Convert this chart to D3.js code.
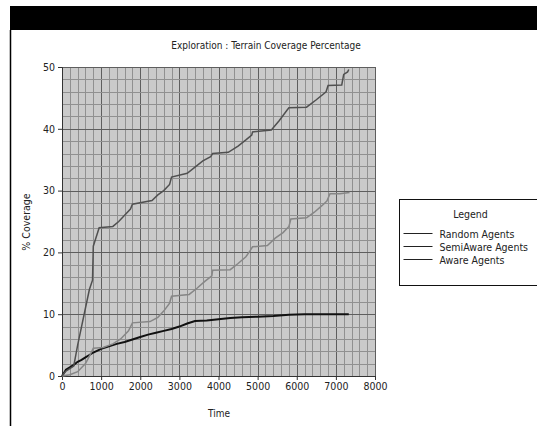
<!DOCTYPE html>
<html>
<head>
<meta charset="utf-8">
<script src="https://cdn.jsdelivr.net/npm/d3@7"></script>
<style>
  body { margin: 0; background: #fff; }
  svg { display: block; font-family: "DejaVu Sans Condensed", "DejaVu Sans", sans-serif; }
</style>
</head>
<body>
<div id="chart"></div>
<script>
// time / coverage pairs
const randomAgents = [[0,0],[50,0.5],[100,1],[200,1.4],[300,1.8],[400,2.3],[500,2.6],[600,3],[700,3.4],[800,3.8],[1000,4.4],[1200,4.8],[1400,5.2],[1600,5.5],[1800,5.9],[2000,6.3],[2200,6.7],[2400,7.0],[2600,7.3],[2800,7.6],[3000,8.0],[3200,8.5],[3400,8.9],[3700,9.0],[4000,9.2],[4300,9.4],[4600,9.5],[5000,9.6],[5400,9.7],[5800,9.9],[6200,10],[6600,10],[7000,10],[7330,10]];
const semiAwareAgents = [[0,0],[200,0.2],[400,0.7],[600,2],[700,3.2],[800,4.5],[1050,4.6],[1300,5.2],[1500,6],[1700,7.3],[1800,8.6],[2250,8.8],[2450,9.5],[2600,10.5],[2750,11.8],[2800,12.9],[3250,13.2],[3450,14.2],[3650,15.3],[3830,16.2],[3850,17.1],[4300,17.2],[4500,18.2],[4700,19.3],[4800,20.2],[4870,20.9],[5250,21.1],[5450,22.3],[5650,23.2],[5800,24.2],[5850,25.4],[6250,25.6],[6450,26.5],[6650,27.6],[6770,28.3],[6850,29.5],[7100,29.5],[7350,29.7]];
const awareAgents = [[0,0],[100,0.8],[200,1.2],[300,1.6],[400,5],[500,8],[600,11],[700,14],[780,15.5],[800,21],[850,22],[950,24],[1300,24.2],[1450,25],[1600,26],[1750,27],[1800,27.8],[2300,28.4],[2450,29.3],[2600,30],[2750,31],[2800,32.2],[3200,32.8],[3400,33.8],[3600,34.8],[3800,35.5],[3850,36],[4250,36.2],[4500,37.2],[4700,38.2],[4850,39],[4870,39.5],[5350,39.8],[5550,41.3],[5750,43],[5800,43.4],[6250,43.5],[6500,44.7],[6750,46],[6800,47],[7150,47.1],[7200,48.8],[7300,49.2],[7330,49.6]];

const seriesNames = ['Random Agents', 'SemiAware Agents', 'Aware Agents'];
const xTicks = [0, 1000, 2000, 3000, 4000, 5000, 6000, 7000, 8000];
const yTicks = [0, 10, 20, 30, 40, 50];

const width = 537, height = 426;
const plot = { left: 62, right: 375, top: 67, bottom: 376 };
const fontSize = 10;

const svg = d3.select('#chart').append('svg')
  .attr('width', width).attr('height', height);

// window frame
svg.append('rect').attr('x', 10).attr('y', 6).attr('width', width - 10).attr('height', 24).attr('fill', '#000');
svg.append('line').attr('x1', 10.5).attr('x2', 10.5).attr('y1', 30).attr('y2', height)
  .attr('stroke', '#000').attr('stroke-width', 1.5);

const x = d3.scaleLinear().domain([0, 8000]).range([plot.left, plot.right]);
const y = d3.scaleLinear().domain([0, 50]).range([plot.bottom, plot.top]);

svg.append('rect')
  .attr('x', plot.left).attr('y', plot.top)
  .attr('width', plot.right - plot.left).attr('height', plot.bottom - plot.top)
  .attr('fill', '#cacaca');

const grid = svg.append('g').attr('class', 'grid');
const minorX = d3.range(0, 8001, 200), minorY = d3.range(0, 51, 2);

grid.selectAll('line.vx').data(minorX).join('line')
  .attr('x1', d => Math.round(x(d)) + 0.5).attr('x2', d => Math.round(x(d)) + 0.5)
  .attr('y1', plot.top).attr('y2', plot.bottom)
  .attr('stroke', d => d % 1000 === 0 ? '#5e5e5e' : '#909090').attr('stroke-width', 1);

grid.selectAll('line.hy').data(minorY).join('line')
  .attr('y1', d => Math.round(y(d)) + 0.5).attr('y2', d => Math.round(y(d)) + 0.5)
  .attr('x1', plot.left).attr('x2', plot.right)
  .attr('stroke', d => d % 10 === 0 ? '#5e5e5e' : '#909090').attr('stroke-width', 1);

// axes
const xAxis = svg.append('g').attr('transform', `translate(0, ${plot.bottom})`)
  .call(d3.axisBottom(x).tickValues(xTicks).tickSize(4).tickPadding(3).tickFormat(d3.format('d')));
const yAxis = svg.append('g').attr('transform', `translate(${plot.left}, 0)`)
  .call(d3.axisLeft(y).tickValues(yTicks).tickSize(4).tickPadding(3));
[xAxis, yAxis].forEach(a => {
  a.select('.domain').attr('stroke', '#333');
  a.selectAll('.tick line').attr('stroke', '#333');
  a.selectAll('text').attr('font-size', fontSize + 0.5).attr('fill', '#222')
    .attr('font-family', '"DejaVu Sans Condensed", "DejaVu Sans", sans-serif');
});

const line = d3.line().x(d => x(d[0])).y(d => y(d[1]));
const series = [
  { name: seriesNames[0], data: randomAgents, color: '#111', w: 2 },
  { name: seriesNames[1], data: semiAwareAgents, color: '#868686', w: 1.5 },
  { name: seriesNames[2], data: awareAgents, color: '#505050', w: 1.5 }
];
svg.append('g').selectAll('path').data(series).join('path')
  .attr('d', d => line(d.data)).attr('fill', 'none')
  .attr('stroke', d => d.color).attr('stroke-width', d => d.w);

// titles
svg.append('text').attr('x', 266).attr('y', 49).attr('text-anchor', 'middle')
  .attr('font-size', fontSize).attr('fill', '#222').text('Exploration : Terrain Coverage Percentage');
svg.append('text').attr('x', 219).attr('y', 417).attr('text-anchor', 'middle')
  .attr('font-size', fontSize).attr('fill', '#222').text('Time');
svg.append('text').attr('transform', `translate(30, 222) rotate(-90)`)
  .attr('text-anchor', 'middle').attr('font-size', fontSize + 0.5).attr('fill', '#222').text('% Coverage');

// legend
const legend = svg.append('g').attr('transform', 'translate(399.5, 199.5)');
legend.append('rect').attr('width', 150).attr('height', 86)
  .attr('fill', '#fff').attr('stroke', '#111').attr('stroke-width', 1);
legend.append('text').attr('x', 71).attr('y', 18).attr('text-anchor', 'middle')
  .attr('font-size', fontSize + 0.5).attr('fill', '#222').text('Legend');
const items = legend.selectAll('g.item').data(series).join('g')
  .attr('transform', (d, i) => `translate(0, ${34 + i * 13})`);
items.append('line').attr('x1', 4).attr('x2', 33).attr('stroke', '#222').attr('stroke-width', 1);
items.append('text').attr('x', 40).attr('y', 4).attr('font-size', fontSize + 0.5).attr('fill', '#222')
  .text(d => d.name);
</script>
</body>
</html>
